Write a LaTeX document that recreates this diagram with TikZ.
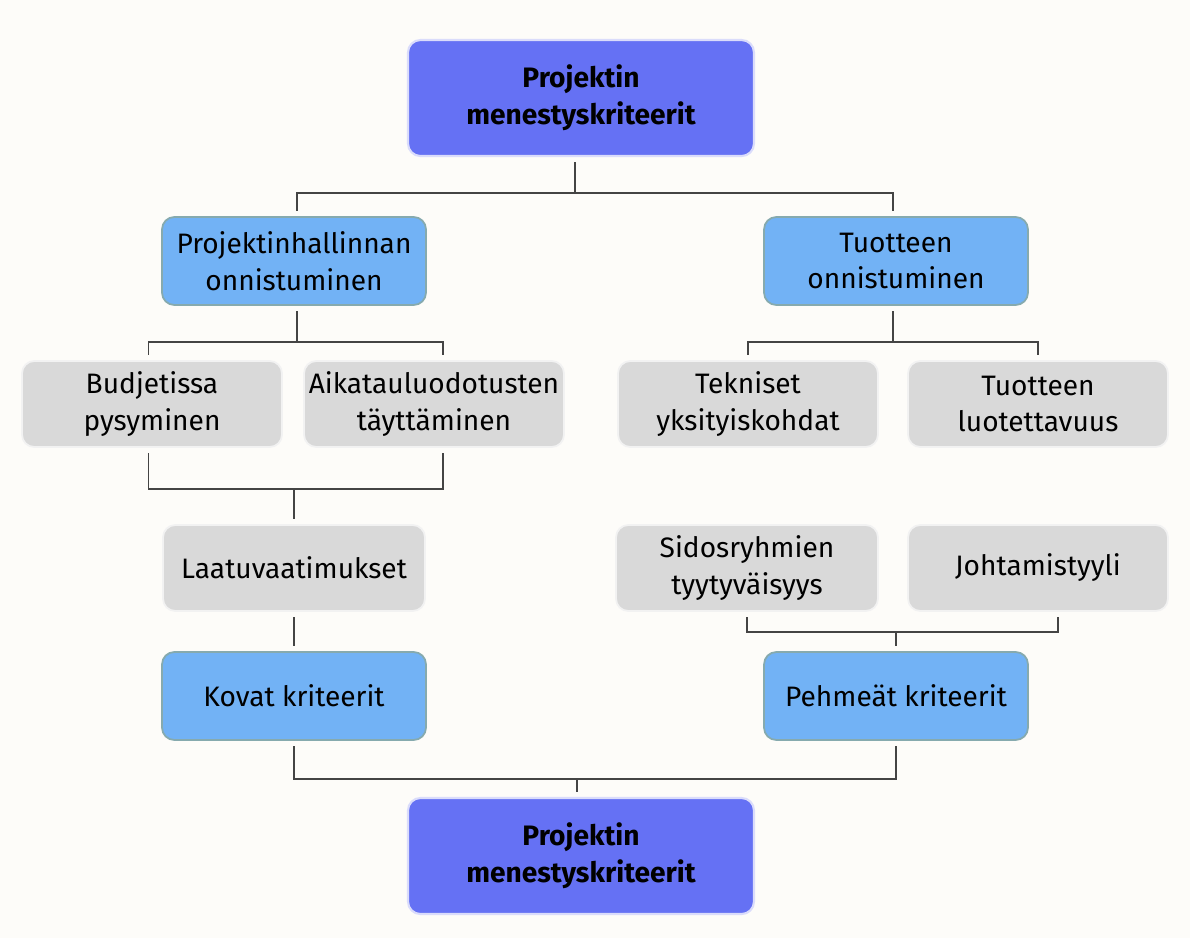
\documentclass[tikz,border=0pt]{standalone}
\usepackage{fontspec}
\setmainfont{Fira Sans}
\usetikzlibrary{calc}

\begin{document}
\begin{tikzpicture}[x=0.02cm, y=-0.02cm,
    box/.style={rounded corners=7pt, align=center, font=\fontsize{16}{21}\selectfont, text=black, inner sep=2pt},
    mainBox/.style={box, fill=mainColour, draw=mainBorder, line width=1.2pt, minimum width=6.92cm, minimum height=2.32cm, font=\fontsize{16}{21}\selectfont\bfseries},
    subBox/.style={box, fill=subColour, draw=subBorder, line width=1pt, minimum width=5.28cm, minimum height=1.76cm},
    leafBox/.style={box, fill=leafColour, draw=leafBorder, line width=1pt, minimum width=5.2cm, minimum height=1.72cm},
    conn/.style={draw=lineColour, line width=0.8pt},
    fromNode/.style={conn, shorten <=3pt},
    toNode/.style={conn, shorten >=3pt},
    bothNodes/.style={conn, shorten <=3pt, shorten >=3pt}]

    \definecolor{bgColour}{HTML}{FDFCF9}
    \definecolor{mainColour}{HTML}{6571F4}
    \definecolor{mainBorder}{HTML}{DADCFB}
    \definecolor{subColour}{HTML}{72B2F5}
    \definecolor{subBorder}{HTML}{86AAAE}
    \definecolor{leafColour}{HTML}{D9D9D9}
    \definecolor{leafBorder}{HTML}{F2F2F2}
    \definecolor{lineColour}{HTML}{444444}

    % Background and page size
    \fill[bgColour] (0,0) rectangle (1190,938);
    \useasboundingbox (0,0) rectangle (1190,938);

    % Top and bottom boxes
    \node[mainBox] (top) at (581,98) {Projektin\\menestyskriteerit};
    \node[mainBox] (bottom) at (581,856) {Projektin\\menestyskriteerit};

    % Second level
    \node[subBox] (hallinta) at (294,261) {Projektinhallinnan\\onnistuminen};
    \node[subBox] (tuote) at (896,261) {Tuotteen\\onnistuminen};

    % Leaves on the left
    \node[leafBox] (budjetti) at (152,404) {Budjetissa\\pysyminen};
    \node[leafBox] (aikataulu) at (434,404) {Aikatauluodotusten\\täyttäminen};
    \node[leafBox, minimum width=5.24cm] (laatu) at (294,568) {Laatuvaatimukset};

    % Leaves on the right
    \node[leafBox] (tekniset) at (748,404) {Tekniset\\yksityiskohdat};
    \node[leafBox] (luotettavuus) at (1038,404) {Tuotteen\\luotettavuus};
    \node[leafBox, minimum width=5.24cm] (sidos) at (747,568) {Sidosryhmien\\tyytyväisyys};
    \node[leafBox] (johto) at (1038,568) {Johtamistyyli};

    % Criteria
    \node[subBox] (kovat) at (294,696) {Kovat kriteerit};
    \node[subBox] (pehmeat) at (896,696) {Pehmeät kriteerit};

    % Junction points
    \coordinate (j1) at (575,193);
    \coordinate (j2) at (297,342);
    \coordinate (j3) at (893,342);
    \coordinate (j4) at (294,489);
    \coordinate (j5) at (896,632);
    \coordinate (j6) at (577,779);

    % Draw connectors
    \draw[fromNode] (top.south -| j1) -- (j1);
    \draw[bothNodes] (hallinta.north -| j2) |- (j1) -| (tuote.north -| j3);
    \draw[fromNode] (hallinta.south -| j2) -- (j2);
    \draw[bothNodes] ([xshift=-2pt]budjetti.north) |- (j2) -| ([xshift=0.18cm]aikataulu.north);
    \draw[fromNode] (tuote.south -| j3) -- (j3);
    \draw[bothNodes] (tekniset.north) |- (j3) -| (luotettavuus.north);
    \draw[bothNodes] ([xshift=-2pt]budjetti.south) |- (j4) -| ([xshift=0.18cm]aikataulu.south);
    \draw[toNode] (j4) -- (laatu.north);
    \draw[bothNodes] (laatu) -- (kovat);
    \draw[bothNodes] (sidos.south) |- (j5) -| ([xshift=0.4cm]johto.south);
    \draw[toNode] (j5) -- (pehmeat.north);
    \draw[bothNodes] (kovat.south) |- (j6) -| (pehmeat.south);
    \draw[toNode] (j6) -- (bottom.north -| j6);

\end{tikzpicture}
\end{document}
